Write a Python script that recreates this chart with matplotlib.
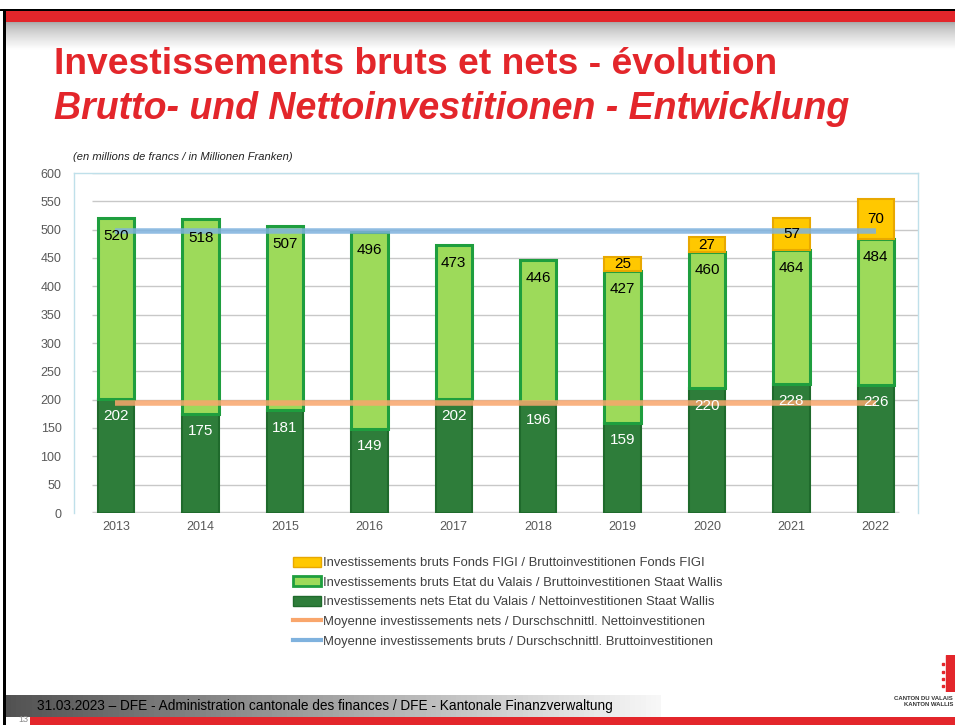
import numpy as np
import matplotlib.pyplot as plt
from matplotlib.patches import Rectangle, Patch
from matplotlib.lines import Line2D

# Data (millions of francs)
years = ['2013', '2014', '2015', '2016', '2017', '2018', '2019', '2020', '2021', '2022']
net = [202, 175, 181, 149, 202, 196, 159, 220, 228, 226]
gross = [520, 518, 507, 496, 473, 446, 427, 460, 464, 484]
figi = [0, 0, 0, 0, 0, 0, 25, 27, 57, 70]
yticks = [0, 50, 100, 150, 200, 250, 300, 350, 400, 450, 500, 550, 600]

W, H = 955, 725
fig = plt.figure(figsize=(W / 100, H / 100), dpi=100)
fig.patch.set_facecolor('white')
RED = '#E3262B'
plt.rcParams['font.family'] = ['Liberation Sans', 'DejaVu Sans']


def px_axes(x0, y0, x1, y1):
    # axes in pixel coords (top-left origin)
    a = fig.add_axes([x0 / W, 1 - y1 / H, (x1 - x0) / W, (y1 - y0) / H])
    a.set_axis_off()
    return a


# slide decoration: top band + shadow
a = px_axes(0, 9, W, 11)
a.add_patch(Rectangle((0, 0), 1, 1, color='black'))
a = px_axes(4, 11, W, 22)
a.add_patch(Rectangle((0, 0), 1, 1, color=RED))
a = px_axes(4, 22, W, 50)
grad = np.linspace(0, 1, 64)[:, None] ** 0.7
a.imshow(grad, cmap='gray', vmin=-1.9, vmax=1, aspect='auto', extent=[0, 1, 0, 1])
a = px_axes(3, 9, 6, H)
a.add_patch(Rectangle((0, 0), 1, 1, color='black'))

# footer
a = px_axes(6, 695, 660, 717)
a.imshow(np.linspace(0, 1, 128)[None, :], cmap='gray', vmin=-0.5, vmax=1.05, aspect='auto',
         extent=[0, 1, 0, 1])
a = px_axes(30, 717, W, H)
a.add_patch(Rectangle((0, 0), 1, 1, color=RED))
fig.text(37 / W, 1 - 706 / H, '31.03.2023 \u2013 DFE - Administration cantonale des finances / DFE - Kantonale Finanzverwaltung',
         fontsize=9.8, color='black', va='center', ha='left')
fig.text(18 / W, 1 - 720 / H, '13', fontsize=6.5, color='#888888', va='center', ha='left')
fig.text(953 / W, 1 - 698 / H, 'CANTON DU VALAIS', fontsize=4.3, fontweight='bold', color='#333333',
         va='center', ha='right')
fig.text(953 / W, 1 - 705 / H, 'KANTON WALLIS', fontsize=4.3, fontweight='bold', color='#333333',
         va='center', ha='right')
a = px_axes(938, 655, W, 692)
a.set_xlim(0, 1)
a.set_ylim(0, 1)
a.add_patch(Rectangle((0.45, 0), 0.55, 1, color=RED))
for yy in [0.15, 0.35, 0.55, 0.75]:
    a.plot([0.3], [yy], 's', color=RED, ms=1.5)

# titles
fig.text(54 / W, 1 - 64 / H, 'Investissements bruts et nets - \u00e9volution', fontsize=26.8,
         fontweight='bold', color=RED, va='center', ha='left')
fig.text(54 / W, 1 - 109 / H, 'Brutto- und Nettoinvestitionen - Entwicklung', fontsize=27,
         fontweight='bold', fontstyle='italic', color=RED, va='center', ha='left')
fig.text(73 / W, 1 - 157 / H, '(en millions de francs / in Millionen Franken)', fontsize=8,
         fontstyle='italic', color='#222222', va='center', ha='left')

# chart
ax = fig.add_axes([74 / W, 1 - 513 / H, (918 - 74) / W, (513 - 173) / H])
x = np.arange(len(years))
net_a = np.array(net)
gross_a = np.array(gross)
figi_a = np.array(figi)
bw = 0.43

ax.hlines(yticks[1:], -0.29, 9.5, color='#C8C8C8', lw=1, zorder=0)
ax.hlines(0, -0.29, 9.28, color='#D0D0D0', lw=2.5, zorder=0)

ax.bar(x, net_a, bw, color='#2E7D3A', edgecolor='#1F6A2C', linewidth=1.5, zorder=2)
ax.bar(x, gross_a - net_a, bw, bottom=net_a, color='#9DDA5A', edgecolor='#1E9E3E', linewidth=2.2, zorder=2)
m = figi_a > 0
ax.bar(x[m], figi_a[m], bw, bottom=gross_a[m], color='#FFC800', edgecolor='#E8A800', linewidth=1.5, zorder=2)

avg_net = np.mean(net_a)
avg_gross = np.mean(gross_a + figi_a)
ax.plot([x[0] - 0.02, x[-1]], [avg_net, avg_net], color='#F9A66C', lw=4, alpha=0.85, zorder=3,
        solid_capstyle='butt')
ax.plot([x[0] - 0.02, x[-1]], [avg_gross, avg_gross], color='#7FB2DE', lw=4, alpha=0.85, zorder=3,
        solid_capstyle='butt')

for i in range(len(years)):
    ax.text(x[i], net[i] - 31, str(net[i]), ha='center', va='center', fontsize=11, color='white', zorder=4)
    ax.text(x[i], gross[i] - 32, str(gross[i]), ha='center', va='center', fontsize=11, color='black', zorder=4)
    if figi[i] > 0:
        ax.text(x[i], gross[i] + figi[i] / 2, str(figi[i]), ha='center', va='center', fontsize=11,
                color='black', zorder=4)

ax.set_xlim(-0.5, 9.5)
ax.set_ylim(0, 600)
ax.set_yticks(yticks)
ax.set_xticks(x)
ax.set_xticklabels(years)
ax.tick_params(axis='both', length=0, labelsize=9, labelcolor='#595959')
ax.tick_params(axis='y', pad=9)
ax.tick_params(axis='x', pad=6)
for s in ax.spines.values():
    s.set_color('#BFE0EA')
    s.set_linewidth(1)
ax.spines['bottom'].set_visible(False)

handles = [
    Patch(facecolor='#FFC800', edgecolor='#E8A800'),
    Patch(facecolor='#9DDA5A', edgecolor='#1E9E3E', linewidth=2),
    Patch(facecolor='#2E7D3A', edgecolor='#1F6A2C'),
    Line2D([0], [0], color='#F9A66C', lw=3),
    Line2D([0], [0], color='#7FB2DE', lw=3),
]
labels = [
    'Investissements bruts Fonds FIGI / Bruttoinvestitionen Fonds FIGI',
    'Investissements bruts Etat du Valais / Bruttoinvestitionen Staat Wallis',
    'Investissements nets Etat du Valais / Nettoinvestitionen Staat Wallis',
    'Moyenne investissements nets / Durschschnittl. Nettoinvestitionen',
    'Moyenne investissements bruts / Durschschnittl. Bruttoinvestitionen',
]
fig.legend(handles, labels, loc='upper left', bbox_to_anchor=(286 / W, 1 - 550 / H), frameon=False,
           fontsize=9.4, labelcolor='#404040', handlelength=2.2, handleheight=0.8, handletextpad=0.1,
           labelspacing=0.55, borderpad=0)

fig.savefig('out.png', dpi=100)
